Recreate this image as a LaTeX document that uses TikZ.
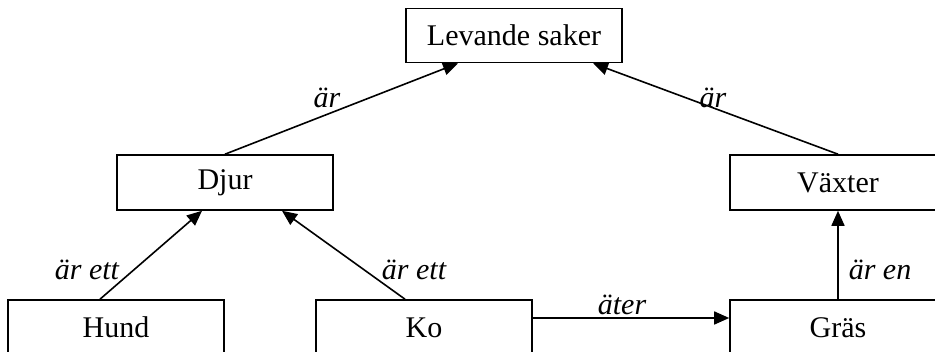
\documentclass[tikz,border=0pt]{standalone}
\usepackage{fontspec}
\setmainfont{Liberation Serif}[ItalicFont={Liberation Serif Italic}]
\usetikzlibrary{arrows.meta,calc}
\begin{document}
\begin{tikzpicture}[x=1pt,y=-1pt,
  box/.style={draw,line width=1.6pt,minimum width=216pt,minimum height=54pt,inner sep=0pt,font=\fontsize{30}{32}\selectfont},
  conn/.style={line width=1.6pt,-{Triangle[length=15pt,width=13pt]}},
  lbl/.style={inner sep=0pt,font=\fontsize{30}{32}\selectfont\itshape}]
\useasboundingbox (0,0) rectangle (935,352);
\clip (0,0) rectangle (935,352);
\node[box] (lev) at (514,35.5) {Levande saker};
\node[box,minimum height=55pt] (djur) at (225,182.5) {Djur};
\node[box,minimum height=55pt] (vax) at (838,182.5) {Växter};
\node[box,minimum height=55pt] (hund) at (116,327.5) {Hund};
\node[box,minimum height=55pt] (ko) at (424,327.5) {Ko};
\node[box,minimum height=55pt] (gras) at (838,327.5) {Gräs};
\draw[conn] (djur.north) -- ($(lev.south)+(-56,0)$);
\draw[conn] (vax.north) -- ($(lev.south)+(79,0)$);
\draw[conn] ($(hund.north)+(-16,0)$) -- ($(djur.south)+(-23,0)$);
\draw[conn] ($(ko.north)+(-19,0)$) -- ($(djur.south)+(57,0)$);
\draw[conn] ($(ko.east)+(0,-9.5)$) -- ($(gras.west)+(0,-9.5)$);
\draw[conn] (gras.north) -- (vax.south);
\node[lbl] (l1) at (327,98) {är};
\node[lbl] (l2) at (713,98) {är};
\node[lbl] (l3) at (87,270) {är ett};
\node[lbl] (l4) at (414,270) {är ett};
\node[lbl] (l5) at (622,305) {äter};
\node[lbl] (l6) at (880,270) {är en};
\end{tikzpicture}
\end{document}
